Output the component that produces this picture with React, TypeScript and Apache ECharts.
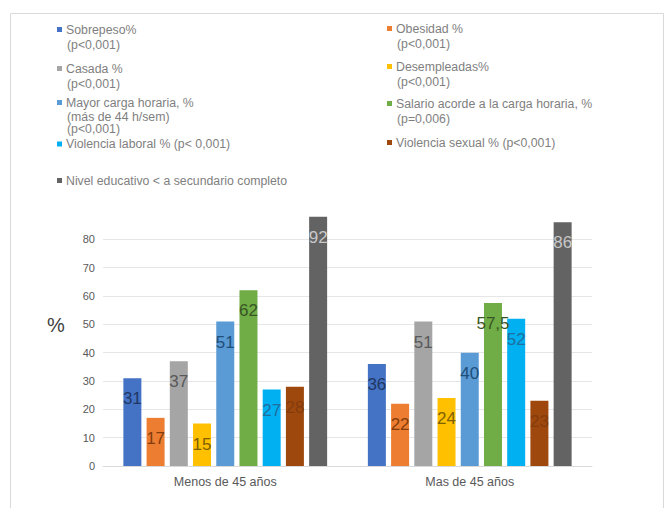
import React, { useEffect, useRef } from "react";
import * as echarts from "echarts";

const categories = ["Menos de 45 años", "Mas de 45 años"];

const seriesNames = [
  "Sobrepeso%",
  "Obesidad %",
  "Casada %",
  "Desempleadas%",
  "Mayor carga horaria, %",
  "Salario acorde a la carga horaria, %",
  "Violencia laboral % (p< 0,001)",
  "Violencia sexual % (p<0,001)",
  "Nivel educativo < a secundario completo",
];

const extraLines: string[][] = [
  ["(p<0,001)"],
  ["(p<0,001)"],
  ["(p<0,001)"],
  ["(p<0,001)"],
  ["(más de 44 h/sem)", "(p<0,001)"],
  ["(p=0,006)"],
  [],
  [],
  [],
];

const menos45 = [31, 17, 37, 15, 51, 62, 27, 28, 92];
const mas45 = [36, 22, 51, 24, 40, 57.5, 52, 23, 86];

const yTicks = [0, 10, 20, 30, 40, 50, 60, 70, 80];

const colors = [
  "#4472C4",
  "#ED7D31",
  "#A5A5A5",
  "#FFC000",
  "#5B9BD5",
  "#70AD47",
  "#00B0F0",
  "#9E480E",
  "#636363",
];

const labelColors = [
  "#1F3864",
  "#843C0C",
  "#595959",
  "#7F6000",
  "#1F4E79",
  "#375623",
  "#1F6E9F",
  "#843C0C",
  "#C8C8C8",
];

// legend layout: [left, centerY of first line, line step]
const legendPos: [number, number, number][] = [
  [57, 31, 13.5],
  [387, 30, 13.5],
  [57, 70, 13.5],
  [387, 68, 13.5],
  [57, 104, 12.5],
  [387, 105, 13.5],
  [57, 145.5, 13.5],
  [387, 144, 13.5],
  [57, 182, 13.5],
];

export default function App() {
  const ref = useRef<HTMLDivElement>(null);
  useEffect(() => {
    if (!ref.current) return;
    const chart = echarts.init(ref.current, null, { renderer: "svg" });
    const legendFont = 12.3;
    const legends = seriesNames.map((n, i) => ({
      show: true,
      data: [n],
      left: legendPos[i][0],
      top: legendPos[i][1] - 7.5,
      padding: 0,
      itemWidth: 5,
      itemHeight: 5,
      icon: "rect",
      selectedMode: false,
      textStyle: {
        fontSize: legendFont,
        color: "#7F7F7F",
        fontFamily: "Liberation Sans, Arial, sans-serif",
        padding: [0, 0, 0, -1],
      },
    }));
    const graphics: any[] = [
      {
        type: "rect",
        shape: { x: 10.5, y: 13.5, width: 653, height: 520 },
        style: { fill: "none", stroke: "#D9D9D9", lineWidth: 1 },
        silent: true,
        z: -10,
      },
      {
        type: "text",
        left: 47,
        top: 315,
        style: {
          text: "%",
          fontSize: 20,
          fill: "#404040",
          fontFamily: "Liberation Sans, Arial, sans-serif",
        },
      },
    ];
    extraLines.forEach((lines, i) => {
      lines.forEach((t, j) => {
        graphics.push({
          type: "text",
          x: legendPos[i][0] + 10,
          y: legendPos[i][1] + legendPos[i][2] * (j + 1),
          style: {
            text: t,
            fontSize: legendFont,
            fill: "#7F7F7F",
            fontFamily: "Liberation Sans, Arial, sans-serif",
            verticalAlign: "middle",
          },
        });
      });
    });

    const fmt = (p: any) => String(p.value).replace(".", ",");

    const option: any = {
      animation: false,
      legend: legends,
      graphic: graphics,
      grid: { left: 103, right: 73, top: 216.7, bottom: 42, containLabel: false },
      xAxis: {
        type: "category",
        data: categories,
        axisLine: { lineStyle: { color: "#D9D9D9" } },
        axisTick: { show: false },
        axisLabel: {
          color: "#595959",
          fontSize: 12.5,
          margin: 9,
          fontFamily: "Liberation Sans, Arial, sans-serif",
        },
      },
      yAxis: {
        type: "value",
        min: yTicks[0],
        max: 88,
        interval: 10,
        axisLine: { show: false },
        axisTick: { show: false },
        axisLabel: {
          color: "#595959",
          fontSize: 11,
          margin: 8,
          showMaxLabel: false,
          fontFamily: "Liberation Sans, Arial, sans-serif",
        },
        splitLine: { lineStyle: { color: "#E6E6E6" }, showMaxLine: false },
      },
      series: seriesNames.map((n, i) => ({
        type: "bar",
        name: n,
        data: [menos45[i], mas45[i]],
        barWidth: 18,
        barGap: "29%",
        clip: true,
        itemStyle: { color: colors[i] },
        label: {
          show: true,
          position: "insideTop",
          distance: 12,
          formatter: fmt,
          color: labelColors[i],
          fontSize: 17,
          fontFamily: "Liberation Sans, Arial, sans-serif",
        },
      })),
    };
    chart.setOption(option);
    return () => chart.dispose();
  }, []);
  return (
    <div
      ref={ref}
      style={{ position: "fixed", left: 0, top: 0, width: 665, height: 508, background: "#fff" }}
    />
  );
}
